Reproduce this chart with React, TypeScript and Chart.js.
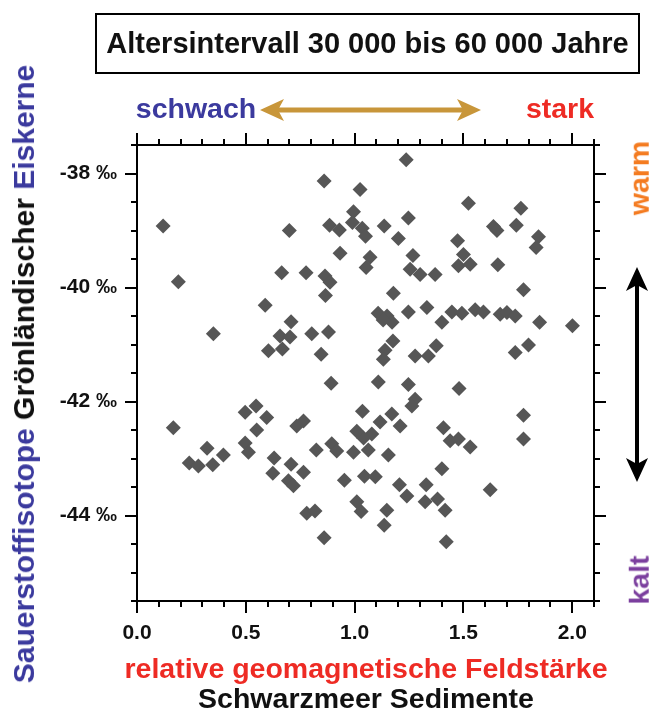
import React, { useEffect, useRef } from "react";
import { Chart, registerables } from "chart.js";
Chart.register(...registerables);

const fieldStrength = [
  0.86, 1.025, 0.995, 0.99, 1.035, 1.05, 0.12, 0.70, 0.885, 0.93,
  0.933, 1.071, 1.053, 0.665, 0.777, 0.864, 0.887, 0.19, 0.866, 1.237,
  1.523, 1.764, 1.247, 1.136, 1.638, 1.654, 1.743, 1.845, 1.834, 1.201,
  1.473, 1.500, 1.477, 1.531, 1.658, 1.268, 1.255, 1.301, 1.370, 1.178,
  1.776, 1.108, 1.149, 1.172, 1.131, 1.247, 1.332, 1.401, 1.447, 1.493,
  1.554, 1.592, 1.669, 1.700, 1.738, 1.850, 2.001, 1.176, 1.140, 1.132,
  1.278, 1.339, 1.375, 1.738, 1.799, 1.109, 1.247, 1.480, 1.278, 1.263,
  1.036, 1.171, 1.117, 1.209, 1.079, 1.041, 1.010, 1.408, 1.776, 1.776,
  1.439, 1.477, 1.531, 1.063, 1.155, 1.401, 1.045, 1.095, 1.206, 1.240,
  1.329, 1.324, 1.381, 1.416, 1.623, 1.030, 1.148, 1.136, 1.421, 0.589,
  0.708, 0.351, 0.657, 0.703, 0.803, 0.880, 0.604, 0.668, 0.846, 0.892,
  0.547, 0.497, 0.596, 0.167, 0.550, 0.734, 0.765, 0.497, 0.322, 0.824,
  0.895, 0.512, 0.397, 0.240, 0.282, 0.348, 0.630, 0.918, 0.995, 0.624,
  0.708, 0.765, 0.696, 0.719, 0.953, 1.010, 0.780, 0.818, 0.860,
];

const oxygenIsotope = [
  -38.13, -38.28, -38.67, -38.86, -38.96, -39.10, -38.92, -39.00, -38.91, -38.99,
  -39.40, -39.47, -39.65, -39.74, -39.74, -39.80, -39.91, -39.90, -40.14, -37.76,
  -38.52, -38.61, -38.78, -38.92, -38.93, -39.00, -38.91, -39.11, -39.30, -39.14,
  -39.18, -39.42, -39.62, -39.59, -39.60, -39.44, -39.68, -39.77, -39.77, -40.10,
  -40.04, -40.45, -40.50, -40.61, -40.57, -40.43, -40.35, -40.61, -40.43, -40.45,
  -40.39, -40.43, -40.47, -40.44, -40.50, -40.61, -40.67, -40.94, -41.10, -41.26,
  -41.20, -41.20, -41.02, -41.14, -41.01, -41.66, -41.70, -41.77, -41.96, -42.08,
  -42.17, -42.22, -42.36, -42.43, -42.57, -42.64, -42.52, -42.46, -42.24, -42.66,
  -42.69, -42.66, -42.80, -42.85, -42.94, -43.18, -43.31, -43.32, -43.46, -43.66,
  -43.46, -43.76, -43.71, -43.91, -43.55, -43.93, -43.91, -44.17, -44.46, -40.31,
  -40.60, -40.81, -40.85, -40.87, -40.81, -40.78, -41.11, -41.08, -41.17, -41.68,
  -42.08, -42.19, -42.28, -42.46, -42.50, -42.43, -42.34, -42.73, -42.82, -42.85,
  -42.74, -42.89, -42.94, -43.08, -43.13, -43.11, -42.99, -42.87, -42.89, -43.26,
  -43.10, -43.24, -43.39, -43.48, -43.38, -43.76, -43.96, -43.92, -44.39,
];

const xTickValues = [0, 0.5, 1.0, 1.5, 2.0];
const xTickLabels = ["0.0", "0.5", "1.0", "1.5", "2.0"];
const yTickValues = [-44, -42, -40, -38];
const yTickLabels = ["-44 ‰", "-42 ‰", "-40 ‰", "-38 ‰"];

const FONT = '"Liberation Sans", Arial, Helvetica, sans-serif';
const BLUE = "#3b3a9e";
const RED = "#ee2b24";

const framePlugin = {
  id: "frameTicks",
  afterDraw(chart: any) {
    const { ctx, chartArea } = chart;
    const xs = chart.scales.x;
    const ys = chart.scales.y;
    ctx.save();
    ctx.strokeStyle = "#000";
    ctx.lineWidth = 2;
    ctx.beginPath();
    ctx.moveTo(chartArea.left, chartArea.top);
    ctx.lineTo(chartArea.right, chartArea.top);
    ctx.lineTo(chartArea.right, chartArea.bottom);
    ctx.stroke();
    ctx.beginPath();
    for (let i = 0; i <= 21; i++) {
      const px = Math.round(xs.getPixelForValue(i / 10));
      const len = i % 5 === 0 ? 12 : 6;
      ctx.moveTo(px, chartArea.bottom);
      ctx.lineTo(px, chartArea.bottom + len);
      ctx.moveTo(px, chartArea.top);
      ctx.lineTo(px, chartArea.top - len);
    }
    for (let i = 0; i <= 16; i++) {
      const v = -45.5 + i * 0.5;
      const py = Math.round(ys.getPixelForValue(v));
      const len = v % 2 === 0 ? 12 : 6;
      ctx.moveTo(chartArea.left, py);
      ctx.lineTo(chartArea.left - len, py);
      ctx.moveTo(chartArea.right, py);
      ctx.lineTo(chartArea.right + len, py);
    }
    ctx.stroke();
    ctx.restore();
  },
};

function ScatterChart() {
  const ref = useRef<HTMLCanvasElement | null>(null);
  useEffect(() => {
    if (!ref.current) return;
    const points = fieldStrength.map((x, i) => ({ x, y: oxygenIsotope[i] }));
    const chart = new Chart(ref.current, {
      type: "scatter",
      data: {
        datasets: [
          {
            data: points,
            pointStyle: "rectRot",
            pointRadius: 7.5,
            pointHoverRadius: 7.5,
            backgroundColor: "#565656",
            borderColor: "#565656",
            borderWidth: 0,
          },
        ],
      },
      options: {
        responsive: false,
        animation: false,
        devicePixelRatio: 1,
        layout: { padding: { top: 145, right: 63, left: 0, bottom: 0 } },
        plugins: { legend: { display: false }, tooltip: { enabled: false } },
        scales: {
          x: {
            type: "linear",
            min: 0,
            max: 2.1,
            afterBuildTicks: (s: any) => {
              s.ticks = xTickValues.map((v) => ({ value: v }));
            },
            afterFit: (s: any) => {
              s.height = 114;
            },
            grid: { display: false, drawTicks: true, tickLength: 12 },
            border: { display: true, color: "#000", width: 2 },
            ticks: {
              padding: 8,
              maxRotation: 0,
              autoSkip: false,
              color: "#111",
              font: { family: FONT, size: 21, weight: "bold" },
              callback: (v: any) => {
                const i = xTickValues.indexOf(Number(v));
                return i >= 0 ? xTickLabels[i] : "";
              },
            },
          },
          y: {
            type: "linear",
            min: -45.5,
            max: -37.5,
            afterBuildTicks: (s: any) => {
              s.ticks = yTickValues.map((v) => ({ value: v }));
            },
            afterFit: (s: any) => {
              s.width = 137;
            },
            grid: { display: false, drawTicks: true, tickLength: 12 },
            border: { display: true, color: "#000", width: 2 },
            ticks: {
              padding: 8,
              autoSkip: false,
              color: "#111",
              font: { family: FONT, size: 21, weight: "bold" },
              callback: (v: any) => {
                const i = yTickValues.indexOf(Number(v));
                return i >= 0 ? yTickLabels[i] : "";
              },
            },
          },
        },
      },
      plugins: [framePlugin],
    } as any);
    return () => chart.destroy();
  }, []);
  return <canvas ref={ref} width={657} height={715} style={{ position: "absolute", left: 0, top: 0 }} />;
}

const textBase: React.CSSProperties = {
  position: "absolute",
  fontFamily: FONT,
  fontWeight: "bold",
  fontSize: 28.5,
  whiteSpace: "nowrap",
  lineHeight: 1,
};

export default function App() {
  return (
    <div style={{ position: "absolute", left: 0, top: 0, width: 657, height: 715, background: "#fff", overflow: "hidden" }}>
      <ScatterChart />
      <div
        style={{
          position: "absolute",
          left: 95,
          top: 13,
          width: 545,
          height: 61,
          border: "2px solid #000",
          boxSizing: "border-box",
          display: "flex",
          alignItems: "center",
          justifyContent: "center",
          fontFamily: FONT,
          fontWeight: "bold",
          fontSize: 29,
          color: "#111",
          whiteSpace: "nowrap",
        }}
      >
        Altersintervall 30 000 bis 60 000 Jahre
      </div>
      <div style={{ ...textBase, left: 196, top: 108, transform: "translate(-50%,-50%)", color: BLUE }}>schwach</div>
      <div style={{ ...textBase, left: 560, top: 108, transform: "translate(-50%,-50%)", color: RED }}>stark</div>
      <div style={{ ...textBase, left: 639, top: 178, transform: "translate(-50%,-50%) rotate(-90deg)", color: "#f47b20" }}>warm</div>
      <div style={{ ...textBase, left: 639, top: 580, transform: "translate(-50%,-50%) rotate(-90deg)", color: "#7b3f9e" }}>kalt</div>
      <div style={{ ...textBase, fontSize: 30, left: 24, top: 374, transform: "translate(-50%,-50%) rotate(-90deg)", color: "#111" }}>
        <span style={{ color: BLUE }}>Sauerstoffisotope</span> Grönländischer <span style={{ color: BLUE }}>Eiskerne</span>
      </div>
      <div style={{ ...textBase, left: 366, top: 668, transform: "translate(-50%,-50%)", color: RED }}>
        relative geomagnetische Feldstärke
      </div>
      <div style={{ ...textBase, left: 366, top: 698, transform: "translate(-50%,-50%)", color: "#111" }}>
        Schwarzmeer Sedimente
      </div>
      <svg width={657} height={715} style={{ position: "absolute", left: 0, top: 0, pointerEvents: "none" }}>
        <line x1={272} y1={110} x2={469} y2={110} stroke="#c8963a" strokeWidth={5} />
        <polygon points="260,110 284,99 278,110 284,121" fill="#c8963a" />
        <polygon points="481,110 457,99 463,110 457,121" fill="#c8963a" />
        <line x1={637} y1={280} x2={637} y2={469} stroke="#000" strokeWidth={4} />
        <polygon points="637,267 626,291 637,285 648,291" fill="#000" />
        <polygon points="637,482 626,458 637,464 648,458" fill="#000" />
      </svg>
    </div>
  );
}
